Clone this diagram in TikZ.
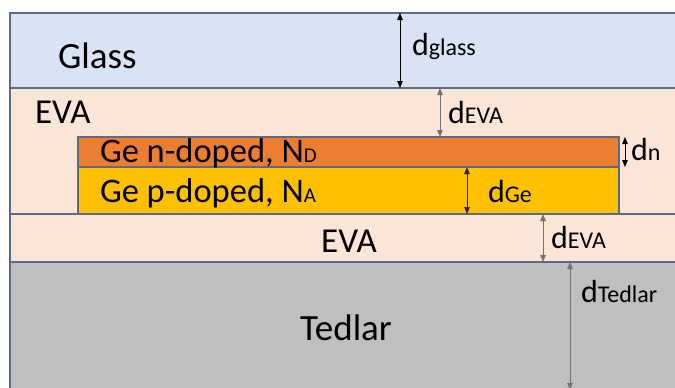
\documentclass[tikz,border=0pt]{standalone}
\usepackage{fontspec}
\setmainfont{Carlito}
\usetikzlibrary{arrows.meta}
\definecolor{glassblue}{HTML}{DAE3F3}
\definecolor{evapeach}{HTML}{FBE5D6}
\definecolor{georange}{HTML}{ED7D31}
\definecolor{geyellow}{HTML}{FFC000}
\definecolor{tedgray}{HTML}{BFBFBF}
\definecolor{edgeline}{HTML}{5B6B85}
\newcommand{\sublbl}[1]{{\fontsize{24}{24}\selectfont #1}}
\newcommand{\dopesub}[1]{{\fontsize{21}{21}\selectfont #1}}

\begin{document}
\begin{tikzpicture}[x=1pt, y=-1pt,
  every node/.style={inner sep=0pt, outer sep=0pt},
  layer/.style={draw=edgeline, line width=1.1pt, anchor=north west},
  lbl/.style={anchor=base west, font=\fontsize{35}{35}\selectfont},
  gelbl/.style={anchor=base west, font=\fontsize{34.5}{34.5}\selectfont},
  dimlbl/.style={anchor=base west, font=\fontsize{32}{32}\selectfont},
  dim/.style={{Triangle[length=7pt,width=5.5pt]}-{Triangle[length=7pt,width=5.5pt]}, line width=0.9pt}
]
  \useasboundingbox (0,0) rectangle (675,388);
  \clip (0,0) rectangle (675,388);

  % layers of the stack
  \node[layer, fill=glassblue, minimum width=680pt, minimum height=75pt] (glass) at (10,13) {};
  \node[layer, fill=evapeach, minimum width=680pt, minimum height=126pt] (evatop) at (10,88) {};
  \node[layer, fill=evapeach, minimum width=680pt, minimum height=48pt] (evabot) at (10,214) {};
  \node[layer, fill=tedgray, minimum width=680pt, minimum height=140pt] (tedlar) at (10,262) {};
  \node[layer, fill=georange, minimum width=541pt, minimum height=30pt] (gen) at (78,137) {};
  \node[layer, fill=geyellow, minimum width=541pt, minimum height=47pt] (gep) at (78,167) {};

  % layer names
  \node[lbl, font=\fontsize{37}{37}\selectfont] (tglass) at (58,68) {Glass};
  \node[lbl] (tevatop) at (35,123) {EVA};
  \node[gelbl] (tgen) at (100,162) {Ge n-doped, N\dopesub{D}};
  \node[gelbl] (tgep) at (100,202) {Ge p-doped, N\dopesub{A}};
  \node[lbl, anchor=base] (tevabot) at (349,252) {EVA};
  \node[lbl, anchor=base, font=\fontsize{37}{37}\selectfont] (ttedlar) at (346,340) {Tedlar};

  % thickness markers
  \coordinate (xglass) at (400,0);
  \coordinate (xevatop) at (440,0);
  \coordinate (xn) at (625,0);
  \coordinate (xge) at (467,0);
  \coordinate (xevabot) at (543,0);
  \coordinate (xtedlar) at (570,0);

  \draw[dim, black] (glass.north -| xglass) -- (glass.south -| xglass);
  \draw[dim, black!55] (evatop.north -| xevatop) -- (gen.north -| xevatop);
  \draw[dim, black] (gen.north -| xn) -- (gen.south -| xn);
  \draw[dim, black!75!georange] (gep.north -| xge) -- (gep.south -| xge);
  \draw[dim, black!55] (evabot.north -| xevabot) -- (evabot.south -| xevabot);
  \draw[dim, black!55] (tedlar.north -| xtedlar) -- ([yshift=-2pt]0,388 -| xtedlar);

  \node[dimlbl] (dglass) at (412,55) {d\sublbl{glass}};
  \node[dimlbl] (devatop) at (448,123) {d\sublbl{EVA}};
  \node[dimlbl] (dn) at (631,160) {d\sublbl{n}};
  \node[dimlbl] (dge) at (488,202) {d\sublbl{Ge}};
  \node[dimlbl] (devabot) at (551,248) {d\sublbl{EVA}};
  \node[dimlbl] (dtedlar) at (581,302) {d\sublbl{Tedlar}};
\end{tikzpicture}
\end{document}
